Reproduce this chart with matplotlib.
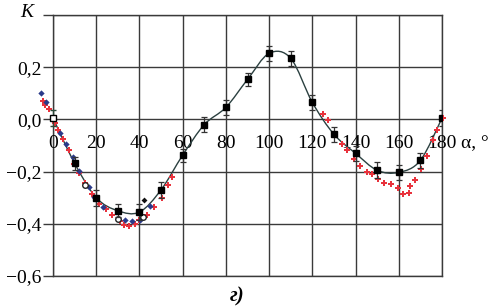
import matplotlib
matplotlib.use("Agg")
import matplotlib.pyplot as plt
import numpy as np
from matplotlib.path import Path
from matplotlib.patches import PathPatch
from matplotlib.ticker import FixedLocator, FixedFormatter

plt.rcParams['font.family'] = ['Liberation Serif', 'DejaVu Serif']

# --- data ---
angles = [0, 10, 20, 30, 40, 50, 60, 70, 80, 90, 100, 110, 120, 130, 140, 150, 160, 170, 180]
k_exp = [0.005, -0.168, -0.300, -0.350, -0.355, -0.270, -0.137, -0.020, 0.046, 0.153,
         0.253, 0.234, 0.065, -0.057, -0.130, -0.195, -0.203, -0.157, 0.005]
k_err = [0.03, 0.025, 0.03, 0.025, 0.03, 0.03, 0.025, 0.03, 0.03, 0.025,
         0.03, 0.028, 0.03, 0.028, 0.03, 0.03, 0.03, 0.03, 0.03]

red_left_x = [-4.6, -3.5, -2.0, 1.0, 2.5, 4.5, 7.6, 9.6, 12.0, 15.0, 18.0, 21.5, 24.5,
              27.3, 31.0, 33.0, 35.3, 38.0, 40.0, 43.5, 46.8, 50.5, 53.3, 55.2]
red_left_y = [0.069, 0.057, 0.038, -0.014, -0.040, -0.075, -0.119, -0.170, -0.205, -0.245,
              -0.285, -0.323, -0.345, -0.368, -0.390, -0.406, -0.410, -0.400, -0.385,
              -0.365, -0.336, -0.303, -0.253, -0.222]
red_right_x = [125.0, 127.2, 130.0, 133.6, 136.0, 139.4, 142.0, 145.5, 147.4, 150.2, 153.2,
               156.3, 159.5, 162.1, 164.7, 165.2, 167.5, 170.2, 172.9, 175.9, 177.8, 180.3]
red_right_y = [0.022, -0.004, -0.057, -0.093, -0.119, -0.153, -0.180, -0.202, -0.210, -0.227,
               -0.242, -0.249, -0.261, -0.285, -0.282, -0.255, -0.231, -0.190, -0.140,
               -0.078, -0.040, 0.005]
blue_x = [-5.7, -3.2, 3.2, 6.0, 9.4, 12.2, 16.5, 19.0, 23.0, 33.3, 36.5, 40.3, 45.0]
blue_y = [0.100, 0.065, -0.054, -0.096, -0.145, -0.198, -0.260, -0.298, -0.335, -0.387,
          -0.390, -0.387, -0.330]
circ_x = [15.0, 30.0, 41.8]
circ_y = [-0.253, -0.383, -0.374]
dia_x = [42.1]
dia_y = [-0.307]

x_ticks = [0, 20, 40, 60, 80, 100, 120, 140, 160, 180]
y_ticks = [-0.6, -0.4, -0.2, 0.0, 0.2, 0.4]
y_labels = ['\u22120,6', '\u22120,4', '\u22120,2', '0,0', '0,2', '']

fig = plt.figure(figsize=(4.9, 3.06), dpi=100)
ax = fig.add_axes([53/490, 1-276/306, (442-53)/490, (276-15)/306])
ax.set_xlim(0, 180)
ax.set_ylim(-0.6, 0.4)

gc = '#3a3a3a'
for s in ax.spines.values():
    s.set_color(gc)
    s.set_linewidth(1.0)
ax.xaxis.set_major_locator(FixedLocator(x_ticks))
ax.yaxis.set_major_locator(FixedLocator(y_ticks))
ax.yaxis.set_major_formatter(FixedFormatter(y_labels))
ax.tick_params(axis='x', length=0, labelbottom=False)
ax.tick_params(axis='y', length=7.2, width=1.0, color=gc, pad=1, labelsize=14)
ax.grid(True, color=gc, linewidth=1.0)
ax.set_axisbelow(True)

# x tick labels drawn near y=0
for xt in x_ticks:
    ax.text(xt, -0.092, str(xt), ha='center', va='center', fontsize=14)
ax.text(189, -0.092, '\u03b1, \u00b0', ha='left', va='center', fontsize=14, clip_on=False)
ax.text(-9, 0.41, 'K', ha='right', va='center', fontsize=14, style='italic')
fig.text(237/490, 1-296/306, '\u0433)', ha='center', va='center', fontsize=15,
         style='italic', weight='bold')

# smooth (Bezier) line through experimental points
px = np.asarray(angles, float)
py = np.asarray(k_exp, float)
verts = [(px[0], py[0])]
codes = [Path.MOVETO]
n = len(px)
for i in range(n - 1):
    p0 = i - 1 if i > 0 else i
    p3 = i + 2 if i + 2 < n else i + 1
    c1 = (px[i] + (px[i+1] - px[p0]) / 6, py[i] + (py[i+1] - py[p0]) / 6)
    c2 = (px[i+1] - (px[p3] - px[i]) / 6, py[i+1] - (py[p3] - py[i]) / 6)
    verts += [c1, c2, (px[i+1], py[i+1])]
    codes += [Path.CURVE4] * 3
ax.add_patch(PathPatch(Path(verts, codes), facecolor='none', edgecolor='#2b4040',
                       linewidth=1.0, zorder=3))

# scatter series
ax.plot(red_left_x, red_left_y, 'P', color='#e8323c', ms=5.0, mew=0, ls='none',
        clip_on=False, zorder=4)
ax.plot(red_right_x, red_right_y, 'P', color='#e8323c', ms=5.0, mew=0, ls='none',
        clip_on=False, zorder=4)
ax.plot(blue_x, blue_y, 'D', color='#2a3a8a', ms=3.2, mew=0, ls='none',
        clip_on=False, zorder=5)
ax.plot(circ_x, circ_y, 'o', mfc='white', mec='#222222', ms=4.0, mew=1.0, ls='none',
        zorder=6)
ax.plot(dia_x, dia_y, 'D', color='#111111', ms=3.0, mew=0, ls='none', zorder=6)

# experimental points with error bars
ax.errorbar(angles[1:], k_exp[1:], yerr=k_err[1:], fmt='s', color='black', ms=4.5,
            ecolor='#333333', elinewidth=0.9, capsize=2.5, capthick=0.9, zorder=7)
ax.errorbar(angles[:1], k_exp[:1], yerr=k_err[:1], fmt='s', mfc='white', mec='black',
            ms=4.5, mew=1.0, ecolor='#2b4a3a', elinewidth=0.9, capsize=2.5,
            capthick=0.9, zorder=7, clip_on=False)

fig.savefig('out.png', dpi=100)
